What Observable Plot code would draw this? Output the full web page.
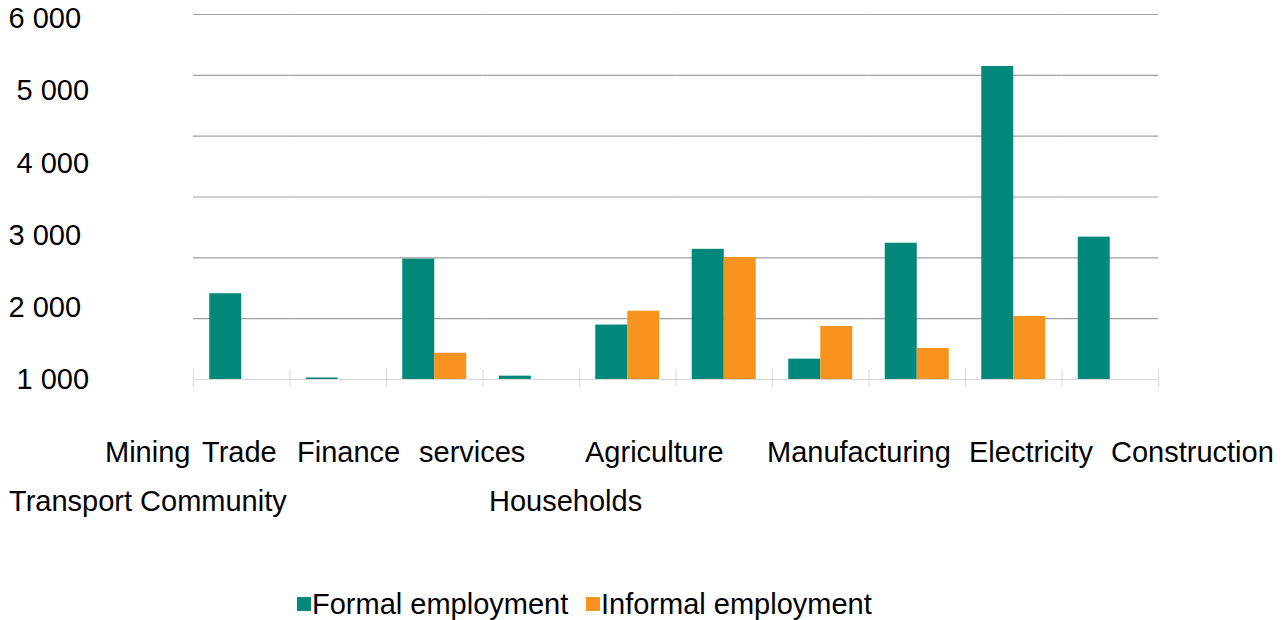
<!DOCTYPE html>
<html>
<head>
<meta charset="utf-8">
<script src="https://cdn.jsdelivr.net/npm/d3@7"></script>
<script src="https://cdn.jsdelivr.net/npm/@observablehq/plot@0.6"></script>
<style>
  body { margin: 0; background: #fff; }
  #chart { position: relative; width: 1285px; height: 620px; font-family: "Liberation Sans", Arial, sans-serif; color: #000; }
  #chart svg { position: absolute; left: 0; top: 0; }
  .lbl { position: absolute; font-size: 29px; line-height: 29px; white-space: pre; }
  .sw { position: absolute; width: 14px; height: 14px; }
</style>
</head>
<body>
<div id="chart"></div>
<script>
// ---- data ----
const categories = ["Mining", "Trade", "Finance", "Transport", "Community services",
  "Households", "Agriculture", "Manufacturing", "Electricity", "Construction"];
const series = ["Formal employment", "Informal employment"];
const formal   = [1410, 25, 1980, 55, 895, 2140, 335, 2240, 5145, 2340];
const informal = [0, 0, 432, 0, 1123, 2006, 871, 510, 1036, 0];
const gridValues = [1000, 2000, 3000, 4000, 5000, 6000];
const yTickLabels = ["1 000", "2 000", "3 000", "4 000", "5 000", "6 000"];
const xLabelRow1 = ["Mining", "Trade", "Finance", "services", "Agriculture", "Manufacturing", "Electricity", "Construction"];
const xLabelRow2 = ["Transport Community", "Households"];
const colors = ["#00897b", "#f7931e"];

// ---- layout ----
const labelStep = 1185; // tick labels are spread evenly, not on the gridlines
const yTickPositions = yTickLabels.map((_, i) => i * labelStep);
const yLabelIndented = [true, false, false, true, true, false]; // ragged left edge of the labels
const row1Left = [105, 202, 297, 419, 585, 767, 969, 1111];
const row2Left = [9, 489];

const rows = categories.flatMap((c, i) => [
  {category: c, series: series[0], value: formal[i]},
  {category: c, series: series[1], value: informal[i]}
]);

const tickOpts = {anchor: "bottom", tickSize: 18, dy: -10, tickFormat: () => "", stroke: "#d9d9d9", label: null};
const labelFmt = d => yTickLabels[yTickPositions.indexOf(d)];
const yAxisOpts = {tickFormat: labelFmt, tickSize: 0, tickPadding: 0, textAnchor: "start", fontSize: 29, label: null};

const chart = Plot.plot({
  width: 1285,
  height: 400,
  marginTop: 14,
  marginBottom: 21,
  marginLeft: 193,
  marginRight: 127,
  style: {fontFamily: "'Liberation Sans', Arial, sans-serif", fontSize: "29px", color: "#000", background: "transparent"},
  fx: {domain: categories, padding: 0, round: false, axis: null},
  x: {domain: series, paddingInner: 0, paddingOuter: 0.508, round: false, axis: null},
  y: {domain: [0, 6000], axis: null},
  color: {domain: series, range: colors},
  marks: [
    Plot.ruleY(gridValues, {stroke: "#a0a0a0", strokeWidth: 1.2}),
    Plot.ruleY([0], {stroke: "#d9d9d9", strokeWidth: 1.2}),
    Plot.axisFx({...tickOpts, dx: -48.25}),
    Plot.axisFx({...tickOpts, ticks: [categories[categories.length - 1]], dx: 48.25}),
    Plot.barY(rows, {fx: "category", x: "series", y: "value", fill: "series"}),
    Plot.axisY({...yAxisOpts, ticks: yTickPositions.filter((_, i) => yLabelIndented[i]), dx: -177}),
    Plot.axisY({...yAxisOpts, ticks: yTickPositions.filter((_, i) => !yLabelIndented[i]), dx: -185})
  ]
});

const root = document.getElementById("chart");
root.appendChild(chart);

function addLabel(text, left, top) {
  const s = document.createElement("span");
  s.className = "lbl";
  s.textContent = text;
  s.style.left = left + "px";
  s.style.top = top + "px";
  root.appendChild(s);
}
xLabelRow1.forEach((w, i) => addLabel(w, row1Left[i], 437.5));
xLabelRow2.forEach((w, i) => addLabel(w, row2Left[i], 486.5));

// legend
const legendLeft = [297, 586];
series.forEach((s, i) => {
  const sw = document.createElement("div");
  sw.className = "sw";
  sw.style.background = colors[i];
  sw.style.left = legendLeft[i] + "px";
  sw.style.top = "597px";
  root.appendChild(sw);
  addLabel(s, legendLeft[i] + 15, 589.5);
});
</script>
</body>
</html>
